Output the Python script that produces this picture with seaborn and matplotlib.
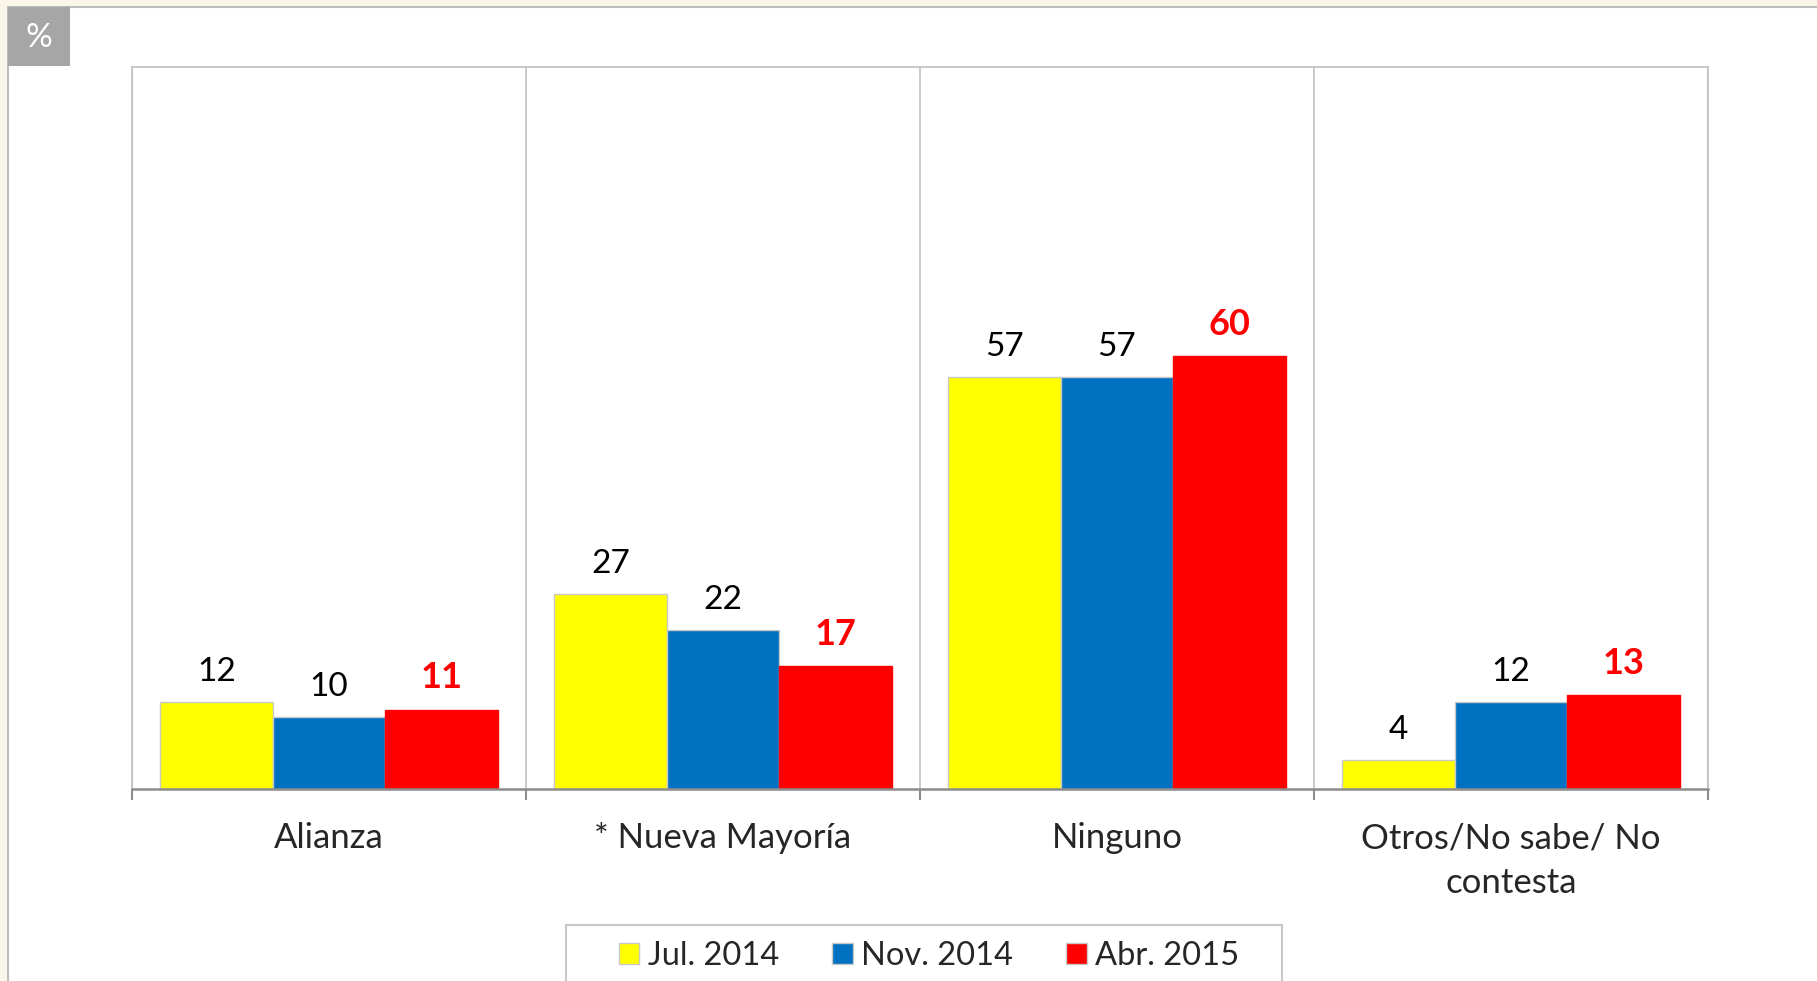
import pandas as pd
import matplotlib.pyplot as plt
import seaborn as sns
from matplotlib.patches import Rectangle

categories = ["Alianza", "* Nueva Mayoría", "Ninguno", "Otros/No sabe/ No\ncontesta"]
periods = ["Jul. 2014", "Nov. 2014", "Abr. 2015"]
jul_2014 = [12, 27, 57, 4]
nov_2014 = [10, 22, 57, 12]
abr_2015 = [11, 17, 60, 13]
colors = ["#FFFF00", "#0070C0", "#FF0000"]

rows = []
for period, vals in zip(periods, [jul_2014, nov_2014, abr_2015]):
    for cat, v in zip(categories, vals):
        rows.append({"categoria": cat, "periodo": period, "valor": v})
df = pd.DataFrame(rows)

sns.set_style("white")
plt.rcParams['font.family'] = ['Lato', 'DejaVu Sans']

W, H = 1817, 981
fig = plt.figure(figsize=(W / 100, H / 100), dpi=100, facecolor="#FAF7EA")

# white panel with thin gray border on top/left
fig.patches.append(Rectangle((8 / W, -0.01), 1, 1.01 - 7 / H, transform=fig.transFigure,
                             facecolor="white", edgecolor="#BDBDBD", linewidth=1.5, zorder=-2))
# gray "%" badge
fig.patches.append(Rectangle((8 / W, 1 - 66 / H), 62 / W, 59 / H, transform=fig.transFigure,
                             facecolor="#A6A6A6", edgecolor="none", zorder=-1))
fig.text(39 / W, 1 - 38 / H, "%", color="white", fontsize=24, ha="center", va="center")

ax = fig.add_axes([132 / W, 1 - 789 / H, (1708 - 132) / W, (789 - 67) / H])
ax.set_facecolor("white")
sns.barplot(data=df, x="categoria", y="valor", hue="periodo", order=categories,
            hue_order=periods, palette=colors, width=0.857, ax=ax,
            edgecolor="#C8C8C8", linewidth=1, saturation=1, errorbar=None)
for bar in ax.containers[2]:
    bar.set_edgecolor("#FF0000")

ax.set_ylim(0, 100)
ax.set_xlim(-0.5, 3.5)
ax.set_xlabel("")
ax.set_ylabel("")
ax.set_yticks([])

# category borders as major ticks, labels on minor ticks
ax.set_xticks([-0.5, 0.5, 1.5, 2.5, 3.5])
ax.set_xticklabels([])
ax.set_xticks([0, 1, 2, 3], minor=True)
ax.set_xticklabels(categories, minor=True, fontsize=25, linespacing=1.5)
ax.tick_params(axis="x", which="major", direction="out", length=8, width=1.5, color="#8C8C8C", bottom=True)
ax.tick_params(axis="x", which="minor", length=0, pad=24)
ax.grid(axis="x", which="major", color="#C0C0C0", linewidth=1.2)
ax.set_axisbelow(True)

for side in ["top", "left", "right"]:
    ax.spines[side].set_color("#C0C0C0")
    ax.spines[side].set_linewidth(1.2)
    ax.spines[side].set_visible(True)
ax.spines["bottom"].set_color("#8C8C8C")
ax.spines["bottom"].set_linewidth(1.8)

ax.bar_label(ax.containers[0], padding=11, fontsize=24, color="black")
ax.bar_label(ax.containers[1], padding=11, fontsize=24, color="black")
ax.bar_label(ax.containers[2], padding=11, fontsize=26, color="#FF0000", fontweight="bold")

ax.legend_.remove()
handles = [Rectangle((0, 0), 1, 1, facecolor=c, edgecolor="#C8C8C8", linewidth=1) for c in colors]
leg = fig.legend(handles, periods, loc="center", bbox_to_anchor=(929 / W, 1 - 956 / H),
                 ncol=3, fontsize=23.5, frameon=False, borderpad=0, borderaxespad=0,
                 handlelength=0.64, handleheight=0.64, handletextpad=0.27, columnspacing=1.6)
# legend frame, cut off by the bottom edge like in the source
fig.patches.append(Rectangle((566 / W, -0.02), (1282 - 566) / W, 0.02 + 1 - 925 / H,
                             transform=fig.transFigure, facecolor="none",
                             edgecolor="#C8C8C8", linewidth=1.5, zorder=-1))

fig.savefig("out.png", dpi=100, facecolor=fig.get_facecolor())
